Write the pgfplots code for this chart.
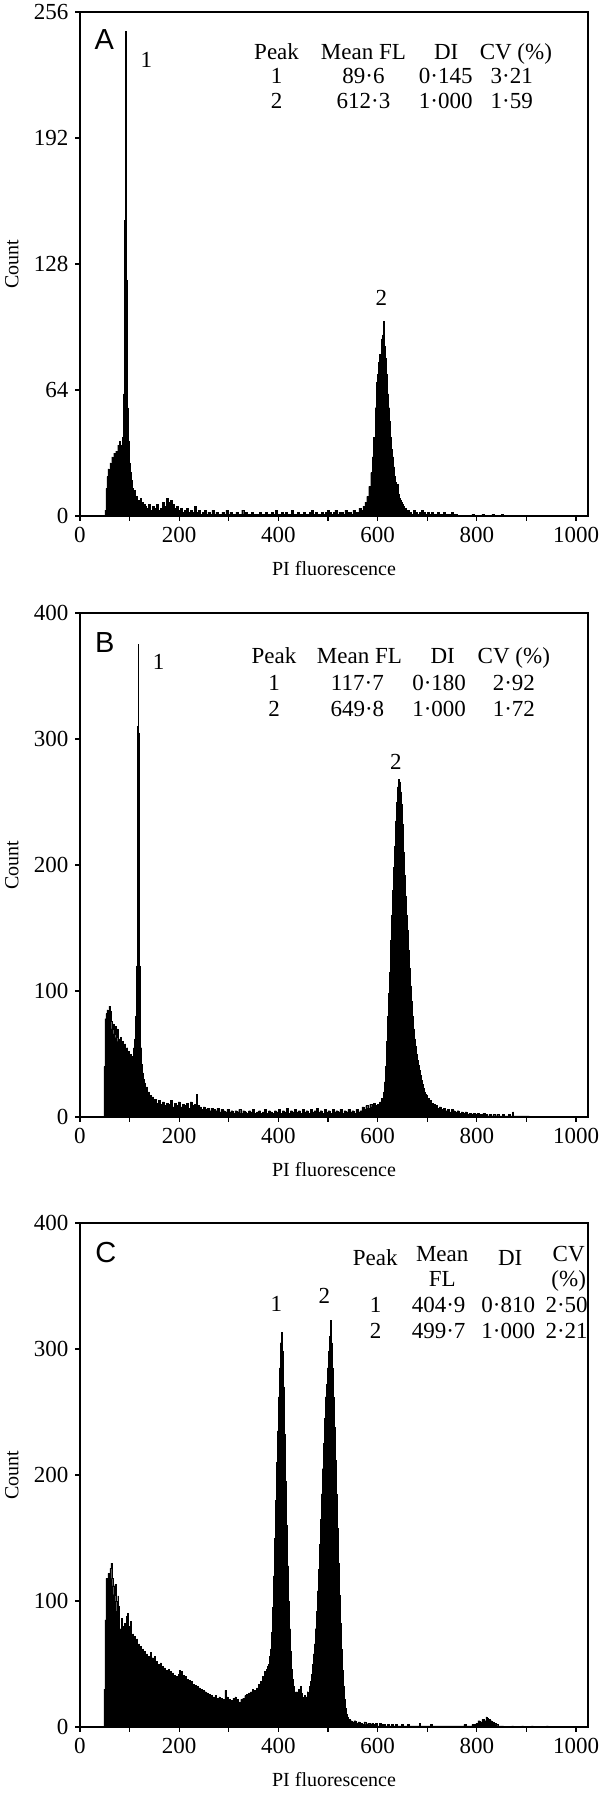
\documentclass[border=0pt]{standalone}
\usepackage{fontspec}
\setmainfont{Liberation Serif}
\newfontfamily\panelfont{Liberation Sans}
\usepackage{pgfplots}
\pgfplotsset{compat=1.18}

% shared look of the three flow cytometry histograms
\pgfplotsset{
  fcm/.style={
    scale only axis, width=254pt, height=252pt,
    xmin=0, xmax=1024, ymin=0,
    xtick={0,200,...,1000}, minor xtick={100,300,...,900},
    tick pos=left, tick align=outside,
    major tick length=2.3pt, minor tick length=2.3pt,
    every tick/.style={black, line width=0.6pt},
    axis line style={line width=0.8pt},
    /pgf/number format/assume math mode=true,
    /pgf/number format/1000 sep={},
    tick label style={font=\fontsize{11.5}{12}\selectfont},
    label style={font=\fontsize{11.5}{12}\selectfont},
    xlabel={PI fluorescence}, ylabel={Count},
    every axis x label/.style={at={(axis description cs:0.5,-0.105)}, anchor=center},
    every axis y label/.style={at={(axis description cs:-0.134,0.5)}, rotate=90, anchor=center},
  },
  hist/.style={const plot, fill=black, draw=black, line width=0.2pt},
}
\tikzset{
  tab/.style={font=\fontsize{11.5}{12}\selectfont, anchor=base},
  panel/.style={font=\panelfont\fontsize{14.5}{15}\selectfont, anchor=center},
}

\begin{document}
\begin{tikzpicture}
\useasboundingbox (-40pt,-642pt) rectangle (263pt,258pt);

% ---------------- A ----------------
\begin{axis}[fcm, at={(0,0)}, ymax=256, ytick={0,64,128,192,256}]
\addplot[hist] coordinates {
(0,0) (48,0) (50,3) (52,14) (54,20) (56,24) (58,22) (60,27) (62,25) (64,30) (66,26) (68,32)
(70,28) (72,33) (74,30) (76,36) (78,31) (80,38) (82,34) (84,36) (86,40) (88,62) (89,105)
(90,150) (91,205) (92,246) (93,178) (94,120) (95,82) (96,55) (97,38) (99,27) (101,22) (103,18)
(105,14) (107,11) (109,13) (111,9) (113,10) (115,7) (117,8) (119,6) (121,9) (123,5) (125,7)
(127,4) (129,6) (131,5) (134,4) (138,6) (142,3) (146,5) (150,4) (154,6) (158,3) (162,4)
(166,7) (170,5) (174,9) (178,7) (182,8) (186,6) (190,4) (194,5) (198,3) (202,4) (206,2)
(210,3) (214,4) (218,2) (222,3) (226,2) (230,5) (234,2) (238,3) (242,1) (246,2) (250,3)
(254,1) (258,2) (262,1) (266,3) (270,1) (274,2) (278,1) (282,1) (286,2) (290,1) (294,3)
(298,1) (302,2) (306,1) (310,1) (314,2) (318,1) (322,1) (326,3) (330,1) (334,2) (338,1)
(342,1) (346,2) (350,1) (354,1) (358,1) (362,2) (366,1) (370,1) (374,2) (378,1) (382,1)
(386,2) (390,1) (394,3) (398,1) (402,1) (406,2) (410,1) (414,2) (418,1) (422,1) (426,3)
(430,1) (434,1) (438,2) (442,1) (446,1) (450,2) (454,1) (458,1) (462,2) (466,3) (470,1)
(474,2) (478,1) (482,1) (486,2) (490,1) (494,2) (498,3) (502,2) (506,1) (510,2) (514,3)
(518,1) (522,2) (526,2) (530,1) (534,3) (538,2) (542,2) (546,1) (550,3) (554,2) (558,2)
(562,4) (566,3) (570,5) (574,7) (578,10) (582,15) (586,22) (589,30) (592,40) (595,55)
(598,68) (600,72) (602,78) (604,82) (606,80) (608,90) (610,92) (612,99) (614,86) (616,80)
(618,72) (620,62) (622,55) (624,48) (626,40) (628,34) (630,30) (632,25) (634,20) (636,17)
(638,14) (640,16) (642,11) (644,9) (646,8) (648,7) (650,6) (652,5) (654,4) (656,4) (658,3)
(660,3) (664,2) (668,1) (672,3) (676,2) (680,1) (684,2) (688,3) (692,2) (696,1) (700,2)
(704,1) (708,2) (712,1) (716,1) (720,2) (724,1) (728,1) (732,2) (736,1) (740,1) (744,1)
(748,2) (752,1) (756,1) (760,0) (790,1) (794,0) (810,1) (814,0) (830,1) (834,0) (850,1)
(854,0) (1024,0)
} \closedcycle;
\node[panel] at (axis description cs:0.048,0.946) {A};
\node[tab] at (axis cs:134,228) {1};
\node[tab] at (axis cs:607.5,107) {2};
\node[tab] at (axis description cs:0.387,0.906) {Peak};
\node[tab] at (axis description cs:0.558,0.906) {Mean FL};
\node[tab] at (axis description cs:0.721,0.906) {DI};
\node[tab] at (axis description cs:0.858,0.906) {CV (\%)};
\node[tab] at (axis description cs:0.387,0.858) {1};
\node[tab] at (axis description cs:0.558,0.858) {89·6};
\node[tab] at (axis description cs:0.720,0.858) {0·145};
\node[tab] at (axis description cs:0.850,0.858) {3·21};
\node[tab] at (axis description cs:0.387,0.809) {2};
\node[tab] at (axis description cs:0.558,0.809) {612·3};
\node[tab] at (axis description cs:0.720,0.809) {1·000};
\node[tab] at (axis description cs:0.850,0.809) {1·59};
\end{axis}

% ---------------- B ----------------
\begin{axis}[fcm, at={(0,-300.5pt)}, ymax=400, ytick={0,100,...,400}]
\addplot[hist] coordinates {
(0,0) (46,0) (48,40) (50,78) (52,82) (54,85) (56,80) (58,88) (60,84) (62,76) (64,70) (66,74)
(68,66) (70,72) (72,63) (74,70) (76,60) (78,62) (80,58) (82,63) (84,55) (86,60) (88,52)
(90,58) (92,50) (94,55) (96,48) (98,52) (100,46) (102,50) (104,45) (106,48) (108,55)
(110,62) (112,80) (114,120) (115,195) (116,310) (117,375) (118,305) (119,200) (120,120)
(121,75) (122,55) (124,42) (126,35) (128,30) (130,27) (132,22) (134,24) (136,18) (138,20)
(140,15) (142,17) (144,13) (146,16) (148,12) (150,14) (154,11) (158,13) (162,10) (166,12)
(170,9) (174,11) (178,10) (182,13) (186,8) (190,11) (194,9) (198,12) (202,8) (206,10)
(210,9) (214,11) (218,7) (222,12) (226,9) (230,10) (234,18) (236,9) (240,8) (244,6)
(248,8) (252,6) (256,7) (260,5) (264,7) (268,6) (272,5) (276,7) (280,4) (284,6) (288,5)
(292,4) (296,6) (300,4) (304,5) (308,3) (312,5) (316,4) (320,6) (324,3) (328,5) (332,4)
(336,3) (340,5) (344,4) (348,6) (352,3) (356,4) (360,5) (364,3) (368,4) (372,6) (376,3)
(380,5) (384,4) (388,3) (392,5) (396,4) (400,6) (404,3) (408,5) (412,4) (416,7) (420,3)
(424,5) (428,4) (432,6) (436,4) (440,5) (444,3) (448,6) (452,4) (456,5) (460,3) (464,6)
(468,4) (472,5) (476,7) (480,4) (484,5) (488,3) (492,6) (496,4) (500,5) (504,3) (508,6)
(512,4) (516,5) (520,4) (524,6) (528,3) (532,5) (536,4) (540,6) (544,4) (548,5) (552,3)
(556,6) (560,4) (564,5) (568,8) (572,6) (576,9) (580,7) (584,10) (588,8) (592,11) (596,9)
(600,10) (604,12) (608,15) (612,20) (614,28) (616,40) (618,60) (620,80) (622,98) (624,115)
(626,140) (628,160) (630,180) (632,198) (634,215) (636,235) (638,250) (640,262) (642,268)
(644,266) (646,258) (648,248) (650,232) (652,210) (654,192) (656,175) (658,160) (660,148)
(662,132) (664,118) (666,104) (668,92) (670,80) (672,70) (674,62) (676,56) (678,50)
(680,45) (682,41) (684,37) (686,33) (688,29) (690,26) (692,23) (694,20) (696,18) (698,17)
(700,15) (704,13) (708,11) (712,10) (716,9) (720,7) (724,8) (728,6) (732,7) (736,5)
(740,6) (744,4) (748,6) (752,5) (756,4) (760,5) (764,3) (768,4) (772,3) (776,4) (780,2)
(784,3) (788,2) (792,3) (796,2) (800,3) (804,2) (808,2) (812,3) (816,2) (820,1) (824,2)
(828,1) (832,2) (836,1) (840,2) (844,1) (848,1) (852,2) (856,1) (860,1) (864,2) (868,1)
(872,4) (874,1) (878,1) (882,1) (886,1) (890,1) (894,1) (898,1) (902,1) (906,0) (1024,0)
} \closedcycle;
\node[panel] at (axis description cs:0.049,0.942) {B};
\node[tab] at (axis cs:158.6,355) {1};
\node[tab] at (axis cs:636.7,276) {2};
\node[tab] at (axis description cs:0.382,0.899) {Peak};
\node[tab] at (axis description cs:0.550,0.899) {Mean FL};
\node[tab] at (axis description cs:0.714,0.899) {DI};
\node[tab] at (axis description cs:0.854,0.899) {CV (\%)};
\node[tab] at (axis description cs:0.382,0.847) {1};
\node[tab] at (axis description cs:0.546,0.847) {117·7};
\node[tab] at (axis description cs:0.707,0.847) {0·180};
\node[tab] at (axis description cs:0.854,0.847) {2·92};
\node[tab] at (axis description cs:0.382,0.794) {2};
\node[tab] at (axis description cs:0.546,0.794) {649·8};
\node[tab] at (axis description cs:0.707,0.794) {1·000};
\node[tab] at (axis description cs:0.854,0.794) {1·72};
\end{axis}

% ---------------- C ----------------
\begin{axis}[fcm, at={(0,-605.5pt)}, ymax=400, ytick={0,100,...,400}]
\addplot[hist] coordinates {
(0,0) (46,0) (48,30) (50,85) (52,118) (54,110) (56,122) (58,115) (60,126) (62,130) (64,118)
(66,112) (68,105) (70,113) (72,100) (74,92) (76,104) (78,96) (80,78) (82,76) (84,86)
(86,80) (88,75) (90,82) (92,76) (94,88) (96,90) (98,80) (100,72) (102,84) (104,70)
(106,74) (108,68) (110,72) (112,66) (114,70) (116,62) (118,66) (120,60) (122,64) (124,57)
(126,62) (128,55) (130,60) (132,52) (134,58) (136,50) (138,56) (140,52) (142,59) (144,50)
(146,55) (148,48) (150,56) (152,47) (154,52) (156,45) (158,50) (160,46) (162,51) (164,44)
(166,48) (168,42) (170,47) (172,43) (174,45) (176,41) (178,46) (180,40) (182,44) (184,39)
(186,43) (188,38) (190,41) (192,37) (194,40) (196,36) (198,42) (200,45) (202,38) (204,44)
(206,37) (208,41) (210,35) (212,40) (214,34) (216,38) (218,33) (220,37) (222,32) (224,36)
(226,31) (228,34) (230,30) (232,33) (234,29) (236,32) (238,28) (240,31) (242,27) (244,30)
(246,26) (248,29) (250,25) (252,28) (254,24) (256,27) (258,23) (260,26) (262,22) (264,25)
(266,21) (268,24) (270,22) (272,25) (274,20) (276,23) (278,19) (280,24) (282,20) (284,23)
(286,19) (288,22) (290,18) (292,29) (294,20) (296,24) (298,19) (300,22) (302,18) (304,21)
(306,19) (308,23) (310,18) (312,24) (314,19) (316,22) (318,17) (320,20) (322,18) (324,22)
(326,19) (328,23) (330,20) (332,25) (334,21) (336,26) (338,22) (340,27) (342,23) (344,28)
(346,24) (348,30) (350,26) (352,29) (354,25) (356,31) (358,28) (360,34) (362,30) (364,36)
(366,33) (368,40) (370,37) (372,44) (374,42) (376,46) (378,48) (380,50) (382,56) (384,62)
(386,75) (388,95) (390,120) (392,150) (394,180) (396,210) (398,235) (400,262) (402,285)
(404,305) (406,313) (408,298) (410,270) (412,232) (414,195) (416,160) (418,128) (420,100)
(422,78) (424,60) (426,46) (428,38) (430,32) (432,28) (434,25) (436,28) (438,24) (440,30)
(442,26) (444,32) (446,27) (448,24) (450,22) (452,25) (454,22) (456,24) (458,28) (460,26)
(462,32) (464,36) (466,42) (468,50) (470,58) (472,66) (474,78) (476,92) (478,108) (480,125)
(482,145) (484,165) (486,185) (488,205) (490,225) (492,245) (494,262) (496,272) (498,285)
(500,298) (502,310) (504,323) (506,305) (508,285) (510,262) (512,238) (514,212) (516,185)
(518,158) (520,130) (522,105) (524,82) (526,62) (528,45) (530,32) (532,22) (534,15)
(536,10) (538,8) (540,6) (544,5) (548,4) (552,5) (556,3) (560,4) (564,3) (568,2) (572,4)
(576,2) (580,3) (584,2) (588,3) (592,2) (596,3) (600,1) (604,3) (608,2) (612,2) (616,1)
(620,2) (624,1) (628,2) (632,1) (636,2) (640,1) (644,1) (648,2) (652,1) (656,1) (660,2)
(664,1) (668,1) (672,1) (676,1) (680,1) (684,3) (686,1) (690,1) (694,1) (698,1) (702,1)
(706,2) (710,1) (714,1) (718,1) (722,1) (726,1) (730,1) (734,1) (738,1) (742,1) (746,1)
(750,1) (754,1) (758,1) (762,1) (766,1) (770,1) (774,2) (778,1) (782,1) (786,1) (790,2)
(794,2) (798,3) (802,5) (806,4) (810,6) (814,5) (818,8) (820,7) (822,6) (826,5) (830,4)
(834,3) (838,2) (842,1) (846,1) (850,1) (854,0) (870,1) (874,0) (890,1) (894,0) (910,1)
(914,0) (940,1) (944,0) (1024,0)
} \closedcycle;
\node[panel] at (axis description cs:0.051,0.941) {C};
\node[tab] at (axis cs:395.8,330) {1};
\node[tab] at (axis cs:492.7,336) {2};
\node[tab] at (axis description cs:0.581,0.915) {Peak};
\node[tab] at (axis description cs:0.713,0.923) {Mean};
\node[tab] at (axis description cs:0.713,0.875) {FL};
\node[tab] at (axis description cs:0.847,0.915) {DI};
\node[tab] at (axis description cs:0.962,0.923) {CV};
\node[tab] at (axis description cs:0.962,0.875) {(\%)};
\node[tab] at (axis description cs:0.582,0.823) {1};
\node[tab] at (axis description cs:0.706,0.823) {404·9};
\node[tab] at (axis description cs:0.843,0.823) {0·810};
\node[tab] at (axis description cs:0.958,0.823) {2·50};
\node[tab] at (axis description cs:0.582,0.770) {2};
\node[tab] at (axis description cs:0.706,0.770) {499·7};
\node[tab] at (axis description cs:0.843,0.770) {1·000};
\node[tab] at (axis description cs:0.958,0.770) {2·21};
\end{axis}
\end{tikzpicture}
\end{document}
